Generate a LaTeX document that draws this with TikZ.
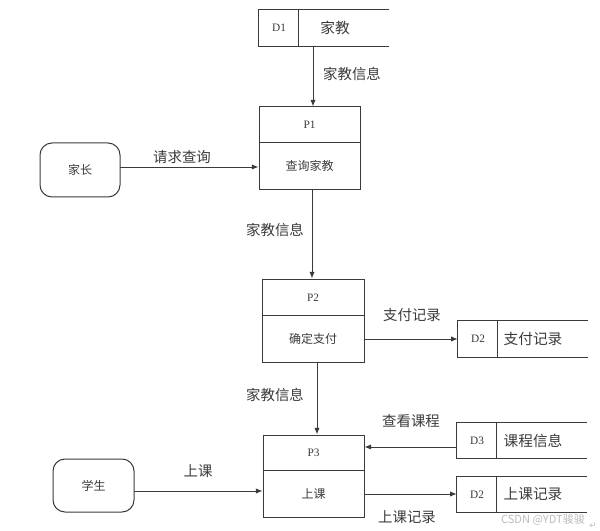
\documentclass[tikz,border=0pt]{standalone}
\usepackage{fontspec}
\setmainfont{Noto Sans CJK SC}
\newfontfamily\idfont{Liberation Serif}
\newfontfamily\symfont{DejaVu Sans}
\usetikzlibrary{arrows.meta}
\definecolor{ln}{HTML}{3A3A3A}
\definecolor{tx}{HTML}{3A3A3A}
\definecolor{wm}{HTML}{BBBBBB}
\tikzset{
  box/.style={draw=ln, line width=0.75pt, inner sep=0pt},
  ghost/.style={draw=none, inner sep=0pt},
  ent/.style={box, rounded corners=9pt},
  flow/.style={text=tx, font=\fontsize{10.8}{12}\selectfont, inner sep=0pt},
  inlbl/.style={text=tx, font=\fontsize{9}{10}\selectfont, inner sep=0pt},
  idlbl/.style={text=tx, font=\idfont\fontsize{8.5}{10}\selectfont, inner sep=0pt},
  stname/.style={text=tx, font=\fontsize{11}{12}\selectfont, inner sep=0pt},
  arr/.style={draw=ln, line width=0.7pt, -{Latex[length=5pt,width=4pt]}},
  stline/.style={draw=ln, line width=0.75pt},
}
\begin{document}
\begin{tikzpicture}[x=0.75pt, y=-0.75pt]
\useasboundingbox (0,0) rectangle (600,531);
% ---- data stores (open on the right)
\node[ghost, minimum width=130*0.75pt, minimum height=36*0.75pt] (d1) at (324,28) {};
\node[ghost, minimum width=130*0.75pt, minimum height=36*0.75pt] (d2a) at (523,339) {};
\node[ghost, minimum width=130*0.75pt, minimum height=35*0.75pt] (d3) at (522,440.5) {};
\node[ghost, minimum width=130*0.75pt, minimum height=35*0.75pt] (d2b) at (522,494.5) {};
\foreach \s in {d1,d2a,d3,d2b}{
  \draw[stline] (\s.north east) -- (\s.north west) -- (\s.south west) -- (\s.south east);
  \draw[stline] ([xshift=40*0.75pt]\s.north west) -- ([xshift=40*0.75pt]\s.south west);
}
\node[idlbl] (d1id) at (279,28) {D1};
\node[stname] (d1nm) at (335,28) {家教};
\node[idlbl] (d2aid) at (478,339) {D2};
\node[stname] (d2anm) at (533,339) {支付记录};
\node[idlbl] (d3id) at (477,440.5) {D3};
\node[stname] (d3nm) at (533,440.5) {课程信息};
\node[idlbl] (d2bid) at (477,494.5) {D2};
\node[stname] (d2bnm) at (533,494.5) {上课记录};
% ---- processes
\node[box, minimum width=101*0.75pt, minimum height=83*0.75pt] (p1) at (309.5,148.5) {};
\draw[stline] ([yshift=-36*0.75pt]p1.north west) -- ([yshift=-36*0.75pt]p1.north east);
\node[idlbl] (p1id) at (309.5,125) {P1};
\node[inlbl] (p1nm) at (309.5,166) {查询家教};
\node[box, minimum width=102*0.75pt, minimum height=83*0.75pt] (p2) at (313,320.5) {};
\draw[stline] ([yshift=-37*0.75pt]p2.north west) -- ([yshift=-37*0.75pt]p2.north east);
\node[idlbl] (p2id) at (313,298) {P2};
\node[inlbl] (p2nm) at (313,339) {确定支付};
\node[box, minimum width=101*0.75pt, minimum height=82*0.75pt] (p3) at (313.5,476) {};
\draw[stline] ([yshift=-36*0.75pt]p3.north west) -- ([yshift=-36*0.75pt]p3.north east);
\node[idlbl] (p3id) at (313.5,453) {P3};
\node[inlbl] (p3nm) at (313.5,494) {上课};
% ---- external entities
\node[ent, minimum width=80*0.75pt, minimum height=54*0.75pt] (jz) at (80,170) {};
\node[inlbl] (jzt) at (80,170) {家长};
\node[ent, minimum width=81*0.75pt, minimum height=53*0.75pt] (xs) at (93.5,485.5) {};
\node[inlbl] (xst) at (93.5,485.5) {学生};
% ---- flows
\coordinate (a1s) at (313,46);
\draw[arr] (a1s) -- (a1s |- p1.north);
\node[flow] (l1) at (352,74) {家教信息};
\coordinate (a2s) at (120,167);
\draw[arr] (a2s) -- (a2s -| p1.west);
\node[flow] (l2) at (182,157) {请求查询};
\coordinate (a3s) at (312,190);
\draw[arr] (a3s) -- (a3s |- p2.north);
\node[flow] (l3) at (275,230) {家教信息};
\coordinate (a4s) at (364,339);
\draw[arr] (a4s) -- (a4s -| d2a.west);
\node[flow] (l4) at (412,315) {支付记录};
\coordinate (a5s) at (317,362);
\draw[arr] (a5s) -- (a5s |- p3.north);
\node[flow] (l5) at (275,395) {家教信息};
\coordinate (a6s) at (457,447);
\draw[arr] (a6s) -- (a6s -| p3.east);
\node[flow] (l6) at (411,421) {查看课程};
\coordinate (a7s) at (134,491);
\draw[arr] (a7s) -- (a7s -| p3.west);
\node[flow] (l7) at (198,471) {上课};
\coordinate (a8s) at (364,494);
\draw[arr] (a8s) -- (a8s -| d2b.west);
\node[flow] (l8) at (407,517) {上课记录};
% ---- watermark
\node[text=wm, font=\fontsize{8.3}{9}\selectfont, inner sep=0pt] (wmk) at (543,519.5) {CSDN @YDT骏骏};
\node[text=wm, font=\symfont\fontsize{6.5}{7}\selectfont, inner sep=0pt] (ret) at (593,526) {↵};
\end{tikzpicture}
\end{document}
